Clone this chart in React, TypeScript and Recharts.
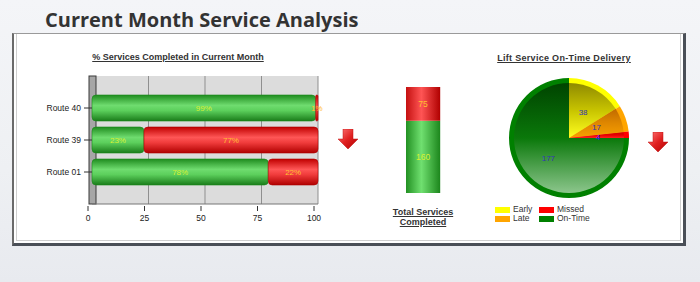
import React from 'react'
import { BarChart, Bar, XAxis, YAxis, CartesianGrid, LabelList, PieChart, Pie, Cell } from 'recharts'

// % completed per route
const routes = ['Route 40', 'Route 39', 'Route 01']
const completedPct = [99, 23, 78]
const missedPct = [1, 77, 22]
const pctTicks = [0, 25, 50, 75, 100]

// totals column
const totalCompleted = 160
const totalMissed = 75

// lift delivery pie
const deliveryNames = ['Early', 'Late', 'Missed', 'On-Time']
const deliveryValues = [38, 17, 4, 177]
const deliveryColors = ['#ffff00', '#ffa500', '#ff0000', '#008000']
const deliveryShades = [
  ['#8f8a00', '#c8c400', '#ffff20'],
  ['#c06a00', '#e08800', '#f8a000'],
  ['#cc0000', '#e80000', '#ff2020'],
  ['#004400', '#0a780a', '#8cc68c'],
]

const FONT = '"Liberation Sans", Arial, sans-serif'

const routeData = routes.map((route, i) => ({ route, completed: completedPct[i], missed: missedPct[i] }))
const totalData = [{ name: 'Total', completed: totalCompleted, missed: totalMissed }]
const pieData = deliveryNames.map((name, i) => ({ name, value: deliveryValues[i] }))

// eslint-disable-next-line @typescript-eslint/no-explicit-any
function Cylinder(props: any) {
  const { x, y, width, height, fill, edge } = props
  if (!width || !height) return null
  const r = Math.min(4, Math.abs(width) / 2)
  return <rect x={x} y={y} width={width} height={height} rx={r} ry={r} fill={fill} stroke={edge} strokeWidth={0.6} />
}

// vertical grid lines; the first one (value 0) is drawn as the 3D side wall
// eslint-disable-next-line @typescript-eslint/no-explicit-any
function GridLine(props: any) {
  const { x1, y1, x2, y2, index } = props
  if (index === 0) {
    return <rect x={x1 - 3} y={Math.min(y1, y2)} width={7} height={Math.abs(y2 - y1)}
      fill="#a6a6a6" stroke="#3a3a3a" strokeWidth={1} />
  }
  return <line x1={x1} y1={y1} x2={x2} y2={y2} stroke="#8f8f8f" strokeWidth={1} />
}

// eslint-disable-next-line @typescript-eslint/no-explicit-any
function PctTick({ x, y, payload }: any) {
  return (
    <g>
      <line x1={x - 4} x2={x - 4} y1={y} y2={y + 5} stroke="#333" />
      <text x={x - 4} y={y + 15} textAnchor="middle" fontSize={8.5} fill="#222" fontFamily={FONT}>
        {payload.value}
      </text>
    </g>
  )
}

// eslint-disable-next-line @typescript-eslint/no-explicit-any
function PieLabel({ cx, cy, midAngle, outerRadius, value, index }: any) {
  const RAD = Math.PI / 180
  const r = outerRadius * 0.53
  const lx = cx + r * Math.cos(-midAngle * RAD)
  const ly = cy + r * Math.sin(-midAngle * RAD)
  // the two thin slices sit close together; spread their labels a little
  const dy = index === 1 ? -1 : index === 2 ? 1 : 0
  return (
    <text x={lx} y={ly + dy} textAnchor="middle" dominantBaseline="central" fontSize={8}
      fill={index === 2 ? '#2222ff' : '#3434b8'} fontFamily={FONT}>
      {value}
    </text>
  )
}

function DownArrow({ left, top }: { left: number; top: number }) {
  return (
    <svg width={20} height={21} style={{ position: 'absolute', left, top }}>
      <defs>
        <linearGradient id={`arr${left}`} x1="0" y1="0" x2="1" y2="1">
          <stop offset="0" stopColor="#ff7a7a" />
          <stop offset="0.5" stopColor="#e02020" />
          <stop offset="1" stopColor="#b00000" />
        </linearGradient>
      </defs>
      <path d="M5 0 H15 V10 H20 L10 20 L0 10 H5 Z" fill={`url(#arr${left})`} stroke="#c01010" strokeWidth={0.5} />
    </svg>
  )
}

const headStyle: React.CSSProperties = {
  position: 'absolute',
  fontFamily: FONT,
  fontWeight: 'bold',
  fontSize: 9,
  color: '#333',
  textDecoration: 'underline',
  textAlign: 'center',
  whiteSpace: 'nowrap',
  lineHeight: '10px',
}

export default function App() {
  return (
    <div style={{
      position: 'fixed', left: 0, top: 0, width: 700, height: 282, overflow: 'hidden',
      background: 'linear-gradient(180deg, #f4f5f8 0%, #eef0f3 60%, #e8eaef 100%)',
    }}>
      <div style={{
        position: 'absolute', left: 45, top: 7, fontFamily: '"Open Sans", sans-serif',
        fontWeight: 700, fontSize: 20, color: '#333', whiteSpace: 'nowrap', lineHeight: '26px',
      }}>
        Current Month Service Analysis
      </div>

      {/* panel */}
      <div style={{
        position: 'absolute', left: 12, top: 33, width: 669, height: 209, background: '#fff',
        borderTop: '1px solid #9a9a9a', borderLeft: '2px solid #6a6a6a',
        borderRight: '3px solid #4a4f57', borderBottom: '3px solid #4a4f57',
      }}>
        <div style={{
          position: 'absolute', left: 2, top: 0, right: 2, bottom: 2,
          borderLeft: '1px solid #cfcfcf', borderBottom: '1px solid #cfcfcf', borderRight: '1px solid #cfcfcf',
        }} />
      </div>

      <div style={{ ...headStyle, left: 78, top: 52, width: 200 }}>% Services Completed in Current Month</div>
      <div style={{ ...headStyle, left: 374, top: 207, width: 98 }}>Total Services<br />Completed</div>
      <div style={{ ...headStyle, left: 484, top: 53, width: 160, letterSpacing: 0.3 }}>Lift Service On-Time Delivery</div>

      {/* % completed bars */}
      <div style={{ position: 'absolute', left: 0, top: 0 }}>
        <BarChart width={340} height={240} data={routeData} layout="vertical"
          margin={{ top: 76, right: 22, bottom: 16, left: 32 }}>
          <defs>
            <linearGradient id="hGreen" x1="0" y1="0" x2="0" y2="1">
              <stop offset="0" stopColor="#1f8c1f" />
              <stop offset="0.4" stopColor="#6fdc6f" />
              <stop offset="0.6" stopColor="#5ccf5c" />
              <stop offset="1" stopColor="#1a7c1a" />
            </linearGradient>
            <linearGradient id="hRed" x1="0" y1="0" x2="0" y2="1">
              <stop offset="0" stopColor="#c00000" />
              <stop offset="0.4" stopColor="#ff5656" />
              <stop offset="0.6" stopColor="#f03c3c" />
              <stop offset="1" stopColor="#b00000" />
            </linearGradient>
          </defs>
          <CartesianGrid horizontal={false} vertical={GridLine} fill="#dcdcdc" />
          <XAxis type="number" domain={[0, 100]} ticks={pctTicks} height={20}
            axisLine={{ stroke: '#777' }} tickLine={false} tickSize={0} tick={<PctTick />} />
          <YAxis type="category" dataKey="route" width={60} padding={{ top: 16, bottom: 16 }}
            axisLine={false} tickLine={{ stroke: '#333' }} tickSize={8} tickMargin={3}
            tick={{ fontSize: 8.5, fill: '#222', fontFamily: FONT }} />
          <Bar dataKey="completed" stackId="r" barSize={26} fill="url(#hGreen)" isAnimationActive={false}
            shape={<Cylinder edge="#1a8a1a" />}>
            <LabelList dataKey="completed" position="center" formatter={(v: number) => `${v}%`}
              fill="#d8f030" fontSize={8} fontFamily={FONT} />
          </Bar>
          <Bar dataKey="missed" stackId="r" barSize={26} fill="url(#hRed)" isAnimationActive={false}
            shape={<Cylinder edge="#b00000" />}>
            <LabelList dataKey="missed" position="center" formatter={(v: number) => `${v}%`}
              fill="#ffc030" fontSize={8} fontFamily={FONT} />
          </Bar>
        </BarChart>
      </div>

      {/* totals column */}
      <div style={{ position: 'absolute', left: 380, top: 60 }}>
        <BarChart width={90} height={150} data={totalData} margin={{ top: 27, right: 28, bottom: 17, left: 24 }}>
          <defs>
            <linearGradient id="vGreen" x1="0" y1="0" x2="1" y2="0">
              <stop offset="0" stopColor="#229022" />
              <stop offset="0.45" stopColor="#70e070" />
              <stop offset="1" stopColor="#1c861c" />
            </linearGradient>
            <linearGradient id="vRed" x1="0" y1="0" x2="1" y2="0">
              <stop offset="0" stopColor="#c41010" />
              <stop offset="0.45" stopColor="#ff5555" />
              <stop offset="1" stopColor="#b00000" />
            </linearGradient>
          </defs>
          <XAxis dataKey="name" hide />
          <YAxis hide domain={[0, totalCompleted + totalMissed]} />
          <Bar dataKey="completed" stackId="t" barSize={38} fill="url(#vGreen)" isAnimationActive={false}>
            <LabelList dataKey="completed" position="center" fill="#d8f030" fontSize={8.5} fontFamily={FONT} />
          </Bar>
          <Bar dataKey="missed" stackId="t" barSize={38} fill="url(#vRed)" isAnimationActive={false}>
            <LabelList dataKey="missed" position="center" fill="#ffc030" fontSize={8.5} fontFamily={FONT} />
          </Bar>
        </BarChart>
      </div>

      {/* delivery pie */}
      <div style={{ position: 'absolute', left: 480, top: 60 }}>
        <PieChart width={170} height={150}>
          <defs>
            {deliveryShades.map((s, i) => (
              <linearGradient key={i} id={`pg${i}`} x1="0" y1="0" x2="0" y2="1">
                <stop offset="0" stopColor={s[0]} />
                <stop offset="0.5" stopColor={s[1]} />
                <stop offset="1" stopColor={s[2]} />
              </linearGradient>
            ))}
          </defs>
          <Pie data={pieData} dataKey="value" cx={84} cy={73} outerRadius={60} startAngle={90} endAngle={-270}
            stroke="none" isAnimationActive={false}>
            {pieData.map((d, i) => <Cell key={d.name} fill={deliveryColors[i]} />)}
          </Pie>
          <Pie data={pieData} dataKey="value" cx={84} cy={73} outerRadius={55} startAngle={90} endAngle={-270}
            stroke="none" isAnimationActive={false} label={PieLabel} labelLine={false}>
            {pieData.map((d, i) => <Cell key={d.name} fill={`url(#pg${i})`} />)}
          </Pie>
        </PieChart>
      </div>

      {/* pie legend */}
      <div style={{
        position: 'absolute', left: 495, top: 205, display: 'grid', gridTemplateColumns: '44px 60px',
        gridAutoFlow: 'column', gridTemplateRows: '9px 9px', fontFamily: FONT, fontSize: 8.5, color: '#333',
      }}>
        {pieData.map((d, i) => (
          <div key={d.name} style={{ display: 'flex', alignItems: 'center', lineHeight: '9px' }}>
            <span style={{ display: 'inline-block', width: 15, height: 6, background: deliveryColors[i], marginRight: 3 }} />
            {d.name}
          </div>
        ))}
      </div>

      <DownArrow left={338} top={129} />
      <DownArrow left={648} top={132} />
    </div>
  )
}
